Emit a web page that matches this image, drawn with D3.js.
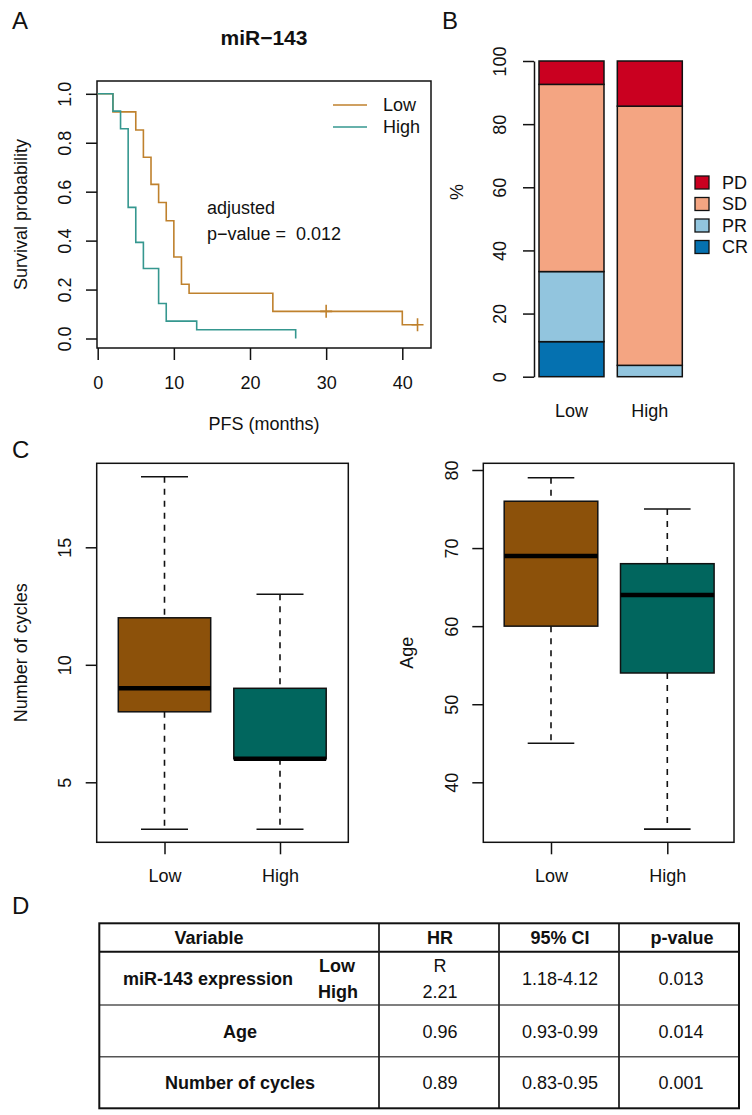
<!DOCTYPE html>
<html><head><meta charset="utf-8">
<script src="https://cdn.jsdelivr.net/npm/d3@7"></script>
<style>
body{margin:0;background:#fff}
svg{display:block}
text{font-family:"Liberation Sans",Arial,Helvetica,sans-serif;fill:#111}
</style>
</head><body>
<svg id="c" width="752" height="1115"></svg>
<script>
// ---------------- data ----------------
const groups = ["Low", "High"];
const kmLowTime = [0, 2, 5, 6, 7, 8, 9, 10, 11, 12, 23, 40, 42];
const kmLowSurv = [1, 0.926, 0.852, 0.741, 0.630, 0.556, 0.481, 0.333, 0.222, 0.185, 0.111, 0.056, 0.056];
const kmLowCensor = [30, 42];
const kmHighTime = [0, 2, 3, 4, 5, 6, 8, 9, 13, 26];
const kmHighSurv = [1, 0.929, 0.857, 0.536, 0.393, 0.286, 0.143, 0.071, 0.036, 0];
const kmTicksX = [0, 10, 20, 30, 40];
const kmTicksY = [0, 0.2, 0.4, 0.6, 0.8, 1.0];

const responseCats = ["CR", "PR", "SD", "PD"];
const responseLow = [11.1, 22.2, 59.3, 7.4];
const responseHigh = [0, 3.6, 82.1, 14.3];
const pctTicks = [0, 20, 40, 60, 80, 100];

// min, q1, median, q3, max
const cyclesLow = [3, 8, 9, 12, 18];
const cyclesHigh = [3, 6, 6, 9, 13];
const cyclesTicks = [5, 10, 15];
const ageLow = [45, 60, 69, 76, 79];
const ageHigh = [34, 54, 64, 68, 75];
const ageTicks = [40, 50, 60, 70, 80];

const tableHeader = ["Variable", "HR", "95% CI", "p-value"];
const tableVars = ["miR-143 expression", "Age", "Number of cycles"];
const tableSub = ["Low", "High"];
const tableHR = [["R", "2.21"], ["0.96"], ["0.89"]];
const tableCI = ["1.18-4.12", "0.93-0.99", "0.83-0.95"];
const tableP = ["0.013", "0.014", "0.001"];

// ---------------- style ----------------
const colLowKM = "#BF812D", colHighKM = "#35978F";
const colLowBox = "#8C510A", colHighBox = "#01665E";
const respColors = {CR: "#0571B0", PR: "#92C5DE", SD: "#F4A582", PD: "#CA0020"};
const FS = 18;

const svg = d3.select("#c");

function letter(t, x, y) {
  svg.append("text").attr("x", x).attr("y", y).attr("font-size", 24).text(t);
}
function frame(x0, y0, x1, y1) {
  svg.append("rect").attr("x", x0).attr("y", y0).attr("width", x1 - x0).attr("height", y1 - y0)
    .attr("fill", "none").attr("stroke", "#111").attr("stroke-width", 1.5);
}
function yAxisRot(g, scale, ticks, off, domainLine) {
  const ax = d3.axisLeft(scale).tickValues(ticks).tickSize(11).tickSizeOuter(0)
    .tickFormat(d => (ticks === kmTicksY ? d3.format(".1f")(d) : d));
  g.call(ax);
  if (!domainLine) g.select(".domain").remove();
  g.selectAll(".domain, line").attr("stroke", "#111").attr("stroke-width", 1.5);
  g.selectAll("text").attr("x", 0).attr("dy", "0.35em").attr("text-anchor", "middle")
    .attr("transform", `translate(${off},0) rotate(-90)`)
    .attr("font-size", FS).attr("fill", "#111")
    .attr("font-family", '"Liberation Sans",Arial,sans-serif');
}
function xAxisBottom(g, scale, ticks, labels, off) {
  const ax = d3.axisBottom(scale).tickValues(ticks).tickSize(12).tickSizeOuter(0)
    .tickFormat((d, i) => labels ? labels[i] : d);
  g.call(ax);
  g.select(".domain").remove();
  g.selectAll("line").attr("stroke", "#111").attr("stroke-width", 1.5);
  g.selectAll("text").attr("y", off).attr("dy", 0).attr("font-size", FS).attr("fill", "#111")
    .attr("font-family", '"Liberation Sans",Arial,sans-serif');
}
function yLabel(t, x, y) {
  svg.append("text").attr("transform", `translate(${x},${y}) rotate(-90)`)
    .attr("text-anchor", "middle").attr("dy", "0.35em").attr("font-size", FS).text(t);
}

// ---------------- Panel A ----------------
letter("A", 12, 29);
{
  const x = d3.scaleLinear().domain([0, 40]).range([97.7, 402.3]);
  const y = d3.scaleLinear().domain([0, 1]).range([338.5, 93.8]);
  svg.append("text").attr("x", 264).attr("y", 45).attr("text-anchor", "middle")
    .attr("font-size", 21).attr("font-weight", "bold").text("miR\u2212143");
  frame(97, 81, 431, 348);
  xAxisBottom(svg.append("g").attr("transform", "translate(0,348)"), x, kmTicksX, null, 41);
  yAxisRot(svg.append("g").attr("transform", "translate(97,0)"), y, kmTicksY, -32, false);
  const line = d3.line().x(d => x(d[0])).y(d => y(d[1])).curve(d3.curveStepAfter);
  const lowPts = kmLowTime.map((t, i) => [t, kmLowSurv[i]]);
  const highPts = kmHighTime.map((t, i) => [t, kmHighSurv[i]]);
  svg.append("path").attr("d", line(lowPts)).attr("fill", "none").attr("stroke", colLowKM).attr("stroke-width", 1.6);
  svg.append("path").attr("d", line(highPts)).attr("fill", "none").attr("stroke", colHighKM).attr("stroke-width", 1.6);
  // censor marks
  const survAt = t => { let s = 1; kmLowTime.forEach((tt, i) => { if (tt <= t) s = kmLowSurv[i]; }); return s; };
  kmLowCensor.forEach(t => {
    const cx = x(t), cy = y(survAt(t));
    svg.append("path").attr("d", `M${cx - 6},${cy}H${cx + 6}M${cx},${cy - 6.5}V${cy + 6.5}`)
      .attr("stroke", colLowKM).attr("stroke-width", 1.6);
  });
  // legend
  [[groups[0], colLowKM, 105], [groups[1], colHighKM, 127]].forEach(([t, c, ly]) => {
    svg.append("line").attr("x1", 333).attr("x2", 367).attr("y1", ly).attr("y2", ly).attr("stroke", c).attr("stroke-width", 1.6);
    svg.append("text").attr("x", 383).attr("y", ly).attr("dy", "0.35em").attr("font-size", FS).text(t);
  });
  svg.append("text").attr("x", 207).attr("y", 214).attr("font-size", FS).text("adjusted");
  svg.append("text").attr("x", 207).attr("y", 240).attr("font-size", FS).attr("xml:space", "preserve")
    .style("white-space", "pre").text("p\u2212value =  0.012");
  svg.append("text").attr("x", 264).attr("y", 430).attr("text-anchor", "middle").attr("font-size", FS).text("PFS (months)");
  yLabel("Survival probability", 21, 214.5);
}

// ---------------- Panel B ----------------
letter("B", 442, 29);
{
  const y = d3.scaleLinear().domain([0, 100]).range([376.7, 61]);
  const x = d3.scaleBand().domain(groups).range([539, 682.3]).paddingInner(0.17).paddingOuter(0);
  const rows = [responseLow, responseHigh].map((arr, gi) => {
    const o = {group: groups[gi]};
    responseCats.forEach((c, i) => o[c] = arr[i]);
    return o;
  });
  const stacked = d3.stack().keys(responseCats)(rows);
  stacked.forEach(layer => {
    svg.append("g").selectAll("rect").data(layer).join("rect")
      .attr("x", d => x(d.data.group)).attr("width", x.bandwidth())
      .attr("y", d => y(d[1])).attr("height", d => Math.max(0, y(d[0]) - y(d[1])))
      .attr("fill", respColors[layer.key]).attr("stroke", "#111").attr("stroke-width", 1.5)
      .attr("display", d => (d[1] - d[0] > 0 ? null : "none"));
  });
  yAxisRot(svg.append("g").attr("transform", "translate(534,0)"), y, pctTicks, -34, true);
  groups.forEach(gname => {
    svg.append("text").attr("x", x(gname) + x.bandwidth() / 2).attr("y", 417).attr("text-anchor", "middle")
      .attr("font-size", FS).text(gname);
  });
  yLabel("%", 457, 192);
  const legendOrder = responseCats.slice().reverse();
  legendOrder.forEach((c, i) => {
    const ly = 182.5 + i * 21.5;
    svg.append("rect").attr("x", 695).attr("y", ly - 6.5).attr("width", 14).attr("height", 13)
      .attr("fill", respColors[c]).attr("stroke", "#111").attr("stroke-width", 1.3);
    svg.append("text").attr("x", 722).attr("y", ly).attr("dy", "0.35em").attr("font-size", FS).text(c);
  });
}

// ---------------- Panel C ----------------
letter("C", 12, 458);
function boxplot(x0, x1, y, ticks, dataL, dataH, centers, halfW, capW, label, labelX, tickOff) {
  frame(x0, 463.3, x1, 842.3);
  const xs = d3.scaleOrdinal().domain(groups).range(centers);
  [[dataL, colLowBox], [dataH, colHighBox]].forEach(([s, col], gi) => {
    const cx = xs(groups[gi]);
    const g = svg.append("g");
    g.append("line").attr("x1", cx).attr("x2", cx).attr("y1", y(s[4])).attr("y2", y(s[3]))
      .attr("stroke", "#111").attr("stroke-width", 1.6).attr("stroke-dasharray", "6,6");
    g.append("line").attr("x1", cx).attr("x2", cx).attr("y1", y(s[1])).attr("y2", y(s[0]))
      .attr("stroke", "#111").attr("stroke-width", 1.6).attr("stroke-dasharray", "6,6");
    [s[0], s[4]].forEach(v => g.append("line").attr("x1", cx - capW).attr("x2", cx + capW)
      .attr("y1", y(v)).attr("y2", y(v)).attr("stroke", "#111").attr("stroke-width", 1.6));
    g.append("rect").attr("x", cx - halfW).attr("width", 2 * halfW).attr("y", y(s[3]))
      .attr("height", y(s[1]) - y(s[3])).attr("fill", col).attr("stroke", "#111").attr("stroke-width", 1.5);
    g.append("line").attr("x1", cx - halfW).attr("x2", cx + halfW).attr("y1", y(s[2])).attr("y2", y(s[2]))
      .attr("stroke", "#000").attr("stroke-width", 4.5);
  });
  const xb = d3.scaleLinear().domain([0, 1]).range(centers);
  xAxisBottom(svg.append("g").attr("transform", "translate(0,842.3)"), xb, [0, 1], groups, 40);
  yAxisRot(svg.append("g").attr("transform", `translate(${x0},0)`), y, ticks, tickOff, false);
  yLabel(label, labelX, 652.8);
}
boxplot(96.7, 348.3, d3.scaleLinear().domain([5, 15]).range([782.3, 547.3]), cyclesTicks,
  cyclesLow, cyclesHigh, [164.5, 280], 46.2, 23.5, "Number of cycles", 21, -32);
boxplot(483.3, 734, d3.scaleLinear().domain([40, 80]).range([782.3, 470]), ageTicks,
  ageLow, ageHigh, [551, 667.3], 46.8, 23.3, "Age", 407, -31.6);

// ---------------- Panel D ----------------
letter("D", 12, 914);
{
  const colX = [99.3, 379, 499, 619, 739];
  const rowY = [923.3, 951.7, 1005, 1056.7, 1108.3];
  const g = svg.append("g");
  rowY.slice(1, -1).forEach((ry, i) => g.append("line").attr("x1", colX[0]).attr("x2", colX[4])
    .attr("y1", ry).attr("y2", ry).attr("stroke", i === 0 ? "#111" : "#555").attr("stroke-width", i === 0 ? 2 : 1.6));
  colX.slice(1, -1).forEach(cx => g.append("line").attr("x1", cx).attr("x2", cx)
    .attr("y1", rowY[0]).attr("y2", rowY[4]).attr("stroke", "#222").attr("stroke-width", 1.8));
  g.append("rect").attr("x", colX[0]).attr("y", rowY[0]).attr("width", colX[4] - colX[0])
    .attr("height", rowY[4] - rowY[0]).attr("fill", "none").attr("stroke", "#111").attr("stroke-width", 2);
  const txt = (t, x, y, bold) => g.append("text").attr("x", x).attr("y", y).attr("dy", "0.35em")
    .attr("text-anchor", "middle").attr("font-size", FS).attr("font-weight", bold ? "bold" : null).attr("fill", "#111").text(t);
  const headerX = [209, 440, 560, 682];
  tableHeader.forEach((h, i) => txt(h, headerX[i], 938, true));
  const rowC = [979, 1031.5, 1082.5];
  txt(tableVars[0], 208, rowC[0], true);
  txt(tableSub[0], 337, 965.5, true);
  txt(tableSub[1], 338, 991.5, true);
  txt(tableHR[0][0], 440, 965.5, false);
  txt(tableHR[0][1], 440, 991.5, false);
  [1, 2].forEach(r => {
    txt(tableVars[r], 240, rowC[r], true);
    txt(tableHR[r][0], 440, rowC[r], false);
  });
  tableCI.forEach((c, r) => txt(c, 560, rowC[r], false));
  tableP.forEach((p, r) => txt(p, 681, rowC[r], false));
}
</script>
</body></html>
